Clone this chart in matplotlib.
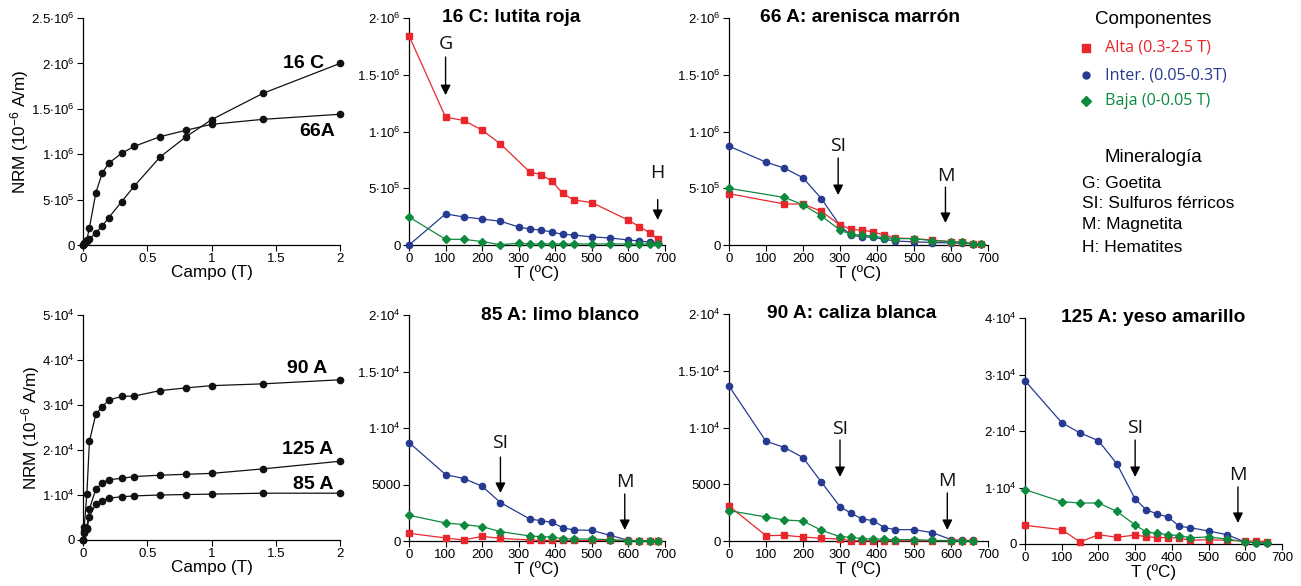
import matplotlib
matplotlib.use('Agg')
import matplotlib.pyplot as plt
from matplotlib.lines import Line2D

plt.rcParams['font.family'] = ['Liberation Sans', 'DejaVu Sans']
plt.rcParams['mathtext.fontset'] = 'custom'
plt.rcParams['mathtext.rm'] = 'Liberation Sans'
plt.rcParams['mathtext.it'] = 'Liberation Sans:italic'
plt.rcParams['mathtext.bf'] = 'Liberation Sans:bold'

W, H = 1301, 586
RED, BLUE, GREEN = '#E8262B', '#263A92', '#0E8A3F'

# ---- IRM acquisition (field in T) ----
FIELD = [0, 0.01, 0.03, 0.05, 0.1, 0.15, 0.2, 0.3, 0.4, 0.6, 0.8, 1.0, 1.4, 2.0]
IRM_16C = [0, 0.01e6, 0.04e6, 0.065e6, 0.135e6, 0.21e6, 0.30e6, 0.476e6, 0.65e6,
           0.97e6, 1.19e6, 1.38e6, 1.67e6, 2.0e6]
IRM_66A = [0, 0.02e6, 0.06e6, 0.19e6, 0.575e6, 0.794e6, 0.90e6, 1.01e6, 1.087e6,
           1.193e6, 1.263e6, 1.329e6, 1.384e6, 1.44e6]
IRM_90A = [0, 0.3e4, 1.02e4, 2.19e4, 2.80e4, 2.96e4, 3.11e4, 3.19e4, 3.20e4,
           3.32e4, 3.38e4, 3.43e4, 3.47e4, 3.56e4]
IRM_125A = [0, 0.2e4, 0.27e4, 0.69e4, 1.13e4, 1.27e4, 1.34e4, 1.37e4, 1.41e4,
            1.44e4, 1.46e4, 1.48e4, 1.58e4, 1.75e4]
IRM_85A = [0, 0.15e4, 0.24e4, 0.52e4, 0.80e4, 0.87e4, 0.93e4, 0.96e4, 0.98e4,
           1.00e4, 1.01e4, 1.02e4, 1.04e4, 1.04e4]

# ---- thermal demagnetisation (T in C) ----
T_ALL = [0, 100, 150, 200, 250, 300, 330, 360, 390, 420, 450, 500, 550, 600, 630, 660, 680]
T_16C_ALTA = [0, 100, 150, 200, 250, 330, 360, 390, 420, 450, 500, 600, 630, 660, 680]
C16_ALTA = [1.844e6, 1.126e6, 1.097e6, 1.012e6, 0.891e6, 0.644e6, 0.62e6, 0.565e6,
            0.456e6, 0.397e6, 0.374e6, 0.218e6, 0.162e6, 0.103e6, 0.05e6]
C16_INTER = [0.0, 0.274e6, 0.247e6, 0.229e6, 0.209e6, 0.159e6, 0.141e6, 0.132e6, 0.115e6,
             0.094e6, 0.088e6, 0.071e6, 0.062e6, 0.044e6, 0.035e6, 0.024e6, 0.02e6]
C16_BAJA = [0.247e6, 0.05e6, 0.05e6, 0.03e6, 0.003e6, 0.015e6, 0.009e6, 0.009e6, 0.009e6,
            0.009e6, 0.009e6, 0.009e6, 0.009e6, 0.009e6, 0.009e6, 0.009e6, 0.009e6]

T_66A = [0, 150, 200, 250, 300, 330, 360, 390, 420, 450, 500, 550, 600, 630, 660, 680]
A66_ALTA = [0.452e6, 0.361e6, 0.361e6, 0.296e6, 0.176e6, 0.138e6, 0.129e6, 0.117e6,
            0.085e6, 0.062e6, 0.056e6, 0.044e6, 0.03e6, 0.026e6, 0.012e6, 0.006e6]
A66_INTER = [0.871e6, 0.730e6, 0.677e6, 0.592e6, 0.408e6, 0.17e6, 0.085e6, 0.073e6, 0.067e6,
             0.05e6, 0.035e6, 0.028e6, 0.022e6, 0.018e6, 0.015e6, 0.012e6, 0.008e6]
A66_BAJA = [0.499e6, 0.419e6, 0.355e6, 0.255e6, 0.132e6, 0.094e6, 0.085e6, 0.079e6,
            0.062e6, 0.056e6, 0.056e6, 0.038e6, 0.029e6, 0.023e6, 0.012e6, 0.006e6]

T_85A = [0, 100, 150, 200, 250, 330, 360, 390, 420, 450, 500, 550, 600, 630, 660, 680]
A85_ALTA = [680, 265, 90, 415, 235, 90, 60, 50, 50, 50, 50, 50, 40, 40, 40, 40]
A85_INTER = [8715, 5880, 5525, 4845, 3400, 1950, 1800, 1655, 1180, 975, 945, 500, 60, 20, 10, 10]
A85_BAJA = [2275, 1595, 1450, 1270, 830, 445, 385, 355, 205, 175, 175, 120, 30, 30, 30, 30]

T_90A = [0, 100, 150, 200, 250, 300, 330, 360, 390, 420, 450, 500, 550, 600, 630, 660]
A90_ALTA = [3090, 470, 500, 355, 235, 175, 30, 20, 20, 20, 20, 20, 20, 20, 20, 20]
A90_INTER = [13650, 8790, 8235, 7350, 5175, 3030, 2440, 1940, 1795, 1175, 1000, 1000, 735, 120, 50, 50]
A90_BAJA = [2675, 2120, 1850, 1765, 940, 380, 325, 205, 175, 145, 120, 120, 60, 30, 30, 30]

T_125A = [0, 100, 150, 200, 250, 300, 330, 360, 390, 420, 450, 500, 550, 600, 630, 660]
A125_ALTA = [3305, 2535, 355, 1650, 1180, 1590, 1300, 1120, 1120, 1060, 650, 765, 650, 530, 530, 415]
A125_INTER = [28900, 21475, 19650, 18290, 14220, 7965, 6075, 5310, 4780, 3125, 2890, 2300,
              1650, 355, 200, 150]
A125_BAJA = [9615, 7490, 7255, 7255, 5780, 3360, 2125, 1890, 1650, 1475, 1120, 1240, 885,
             355, 235, 175]

TICKS_E6 = [0, 0.5e6, 1e6, 1.5e6, 2e6, 2.5e6]
LBL_E6 = ['0', r'$5{\cdot}10^5$', r'$1{\cdot}10^6$', r'$1.5{\cdot}10^6$', r'$2{\cdot}10^6$',
          r'$2.5{\cdot}10^6$']
TICKS_E4 = [0, 1e4, 2e4, 3e4, 4e4, 5e4]
LBL_E4 = ['0', r'$1{\cdot}10^4$', r'$2{\cdot}10^4$', r'$3{\cdot}10^4$', r'$4{\cdot}10^4$',
          r'$5{\cdot}10^4$']
TICKS_HALF = [0, 5000, 1e4, 1.5e4, 2e4]
LBL_HALF = ['0', '5000', r'$1{\cdot}10^4$', r'$1.5{\cdot}10^4$', r'$2{\cdot}10^4$']

fig = plt.figure(figsize=(W / 100, H / 100), dpi=100)


def make_ax(x0, x1, ytop, ybot):
    ax = fig.add_axes([x0 / W, (H - ybot) / H, (x1 - x0) / W, (ybot - ytop) / H])
    for s in ('top', 'right'):
        ax.spines[s].set_visible(False)
    for s in ('left', 'bottom'):
        ax.spines[s].set_linewidth(0.9)
    ax.tick_params(direction='out', length=4, width=0.8, labelsize=9.5, pad=2)
    return ax


def field_panel(ax, curves, ymax, ticks, lbls):
    for y in curves:
        ax.plot(FIELD, y, '-o', color='#111111', lw=0.9, ms=4.5, clip_on=False, zorder=3)
    ax.set_xlim(0, 2)
    ax.set_ylim(0, ymax)
    ax.set_xticks([0, 0.5, 1, 1.5, 2])
    ax.set_xticklabels(['0', '0.5', '1', '1.5', '2'])
    ax.set_yticks([t for t in ticks if t <= ymax])
    ax.set_yticklabels(lbls[:len([t for t in ticks if t <= ymax])])
    ax.set_xlabel('Campo (T)', fontsize=12.3, labelpad=0)
    ax.set_ylabel(r'NRM (10$^{-6}$ A/m)', fontsize=12.3, labelpad=0)


def thermal_panel(ax, series, ymax, ticks, lbls, title, tx):
    for t, y, c, m, ms in series:
        ax.plot(t, y, '-', marker=m, color=c, lw=0.9, ms=ms, clip_on=False, zorder=3)
    ax.set_xlim(0, 700)
    ax.set_ylim(0, ymax)
    ax.set_xticks(range(0, 701, 100))
    ax.set_yticks(ticks)
    ax.set_yticklabels(lbls)
    ax.set_xlabel('T (ºC)', fontsize=12.3, labelpad=0)
    ax.text(tx, 1.0, title, transform=ax.transAxes, ha='center', va='center',
            fontsize=13.8, fontweight='bold')


def arrow(ax, label, x, tip, tail, ty):
    ax.annotate('', xy=(x, tip), xytext=(x, tail),
                arrowprops=dict(arrowstyle='-|>', color='black', lw=1.0,
                                mutation_scale=15, shrinkA=0, shrinkB=0))
    ax.text(x, ty, label, ha='center', va='center', fontsize=14,
            family='Open Sans', color='#111111')


# top row
ax1 = make_ax(83, 340, 18, 245)
field_panel(ax1, [IRM_16C, IRM_66A], 2.5e6, TICKS_E6, LBL_E6)
ax1.text(1.88, 2.0e6, '16 C', ha='right', va='center', fontsize=14, fontweight='bold')
ax1.text(1.96, 1.245e6, '66A', ha='right', va='center', fontsize=14, fontweight='bold')

ax2 = make_ax(409, 665, 18, 245)
thermal_panel(ax2, [(T_ALL, C16_INTER, BLUE, 'o', 4.5),
                    (T_16C_ALTA, C16_ALTA, RED, 's', 5),
                    (T_ALL, C16_BAJA, GREEN, 'D', 4.5)],
              2e6, TICKS_E6[:5], LBL_E6[:5], '16 C: lutita roja', 0.40)
arrow(ax2, 'G', 100, 1.32e6, 1.656e6, 1.77e6)
arrow(ax2, 'H', 680, 0.22e6, 0.40e6, 0.63e6)

ax3 = make_ax(729, 988, 18, 245)
thermal_panel(ax3, [(T_ALL, A66_INTER, BLUE, 'o', 4.5),
                    (T_66A, A66_ALTA, RED, 's', 5),
                    (T_66A, A66_BAJA, GREEN, 'D', 4.5)],
              2e6, TICKS_E6[:5], LBL_E6[:5], '66 A: arenisca marrón', 0.506)
arrow(ax3, 'SI', 295, 0.44e6, 0.767e6, 0.87e6)
arrow(ax3, 'M', 585, 0.194e6, 0.51e6, 0.61e6)

# bottom row
ax4 = make_ax(83, 340, 315, 540)
field_panel(ax4, [IRM_90A, IRM_125A, IRM_85A], 5e4, TICKS_E4, LBL_E4)
ax4.text(1.90, 3.82e4, '90 A', ha='right', va='center', fontsize=14, fontweight='bold')
ax4.text(1.95, 2.0e4, '125 A', ha='right', va='center', fontsize=14, fontweight='bold')
ax4.text(1.95, 1.24e4, '85 A', ha='right', va='center', fontsize=14, fontweight='bold')

ax5 = make_ax(409, 665, 315, 541)
thermal_panel(ax5, [(T_85A, A85_INTER, BLUE, 'o', 4.5),
                    (T_85A, A85_ALTA, RED, 's', 5),
                    (T_85A, A85_BAJA, GREEN, 'D', 4.5)],
              2e4, TICKS_HALF, LBL_HALF, '85 A: limo blanco', 0.59)
arrow(ax5, 'SI', 250, 4250, 7430, 8650)
arrow(ax5, 'M', 590, 970, 4160, 5250)

ax6 = make_ax(729, 988, 314, 541)
thermal_panel(ax6, [(T_90A, A90_INTER, BLUE, 'o', 4.5),
                    (T_90A, A90_ALTA, RED, 's', 5),
                    (T_90A, A90_BAJA, GREEN, 'D', 4.5)],
              2e4, TICKS_HALF, LBL_HALF, '90 A: caliza blanca', 0.475)
arrow(ax6, 'SI', 300, 5640, 8900, 9850)
arrow(ax6, 'M', 590, 970, 4230, 5250)

ax7 = make_ax(1025, 1282, 318, 544)
thermal_panel(ax7, [(T_125A, A125_INTER, BLUE, 'o', 4.5),
                    (T_125A, A125_ALTA, RED, 's', 5),
                    (T_125A, A125_BAJA, GREEN, 'D', 4.5)],
              4e4, TICKS_E4[:5], LBL_E4[:5], '125 A: yeso amarillo', 0.50)
arrow(ax7, 'SI', 300, 11860, 18400, 20450)
arrow(ax7, 'M', 580, 3720, 10090, 12300)

# legend block (pixel coordinates)
lg = fig.add_axes([0, 0, 1, 1], zorder=-1)
lg.set_xlim(0, W)
lg.set_ylim(H, 0)
lg.axis('off')
lg.text(1153, 20, 'Componentes', ha='center', va='center', fontsize=13.5)
entries = [('Alta (0.3-2.5 T)', RED, 's', 5.5, 48),
           ('Inter. (0.05-0.3T)', BLUE, 'o', 5, 75),
           ('Baja (0-0.05 T)', GREEN, 'D', 5.5, 101)]
for txt, c, m, ms, y in entries:
    lg.add_line(Line2D([1086], [y], marker=m, color=c, ms=ms, ls='none'))
    lg.text(1105, y, txt, ha='left', va='center', fontsize=11.6, color=c, family='Open Sans')
lg.text(1153, 157, 'Mineralogía', ha='center', va='center', fontsize=13.5)
for txt, y in [('G: Goetita', 183), ('SI: Sulfuros férricos', 204),
               ('M: Magnetita', 225), ('H: Hematites', 247)]:
    lg.text(1082, y, txt, ha='left', va='center', fontsize=12.5)

fig.savefig('out.png', dpi=100, facecolor='white')
